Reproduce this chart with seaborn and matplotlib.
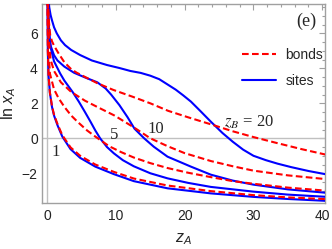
import numpy as np
import pandas as pd
import matplotlib
matplotlib.use("Agg")
import matplotlib.pyplot as plt
import seaborn as sns
from matplotlib.lines import Line2D
from matplotlib.ticker import MultipleLocator

# values (z_A, ln x_A) for z_B = 1, 5, 10, 20
z_sites_20 = [0.15, 0.3, 0.5, 0.7, 1.0, 1.4, 2.0, 2.6, 3.5, 4.8, 6.5, 8.7, 10.5, 12.1, 13.6, 15.0,
              16.3, 17.5, 18.7, 19.8, 20.9, 22.3, 23.8, 25.5, 27.0, 28.5, 30.0, 31.8, 33.5, 35.5, 38.0, 40.7]
lnx_sites_20 = [8.2, 7.5, 7.05, 6.75, 6.35, 6.0, 5.6, 5.33, 5.05, 4.76, 4.45, 4.19, 4.02, 3.85, 3.74, 3.58,
                3.38, 3.08, 2.78, 2.45, 2.1, 1.55, 0.95, 0.3, -0.2, -0.65, -1.0, -1.25, -1.45, -1.65, -1.87, -2.07]
z_bonds_20 = [0.1, 0.25, 0.44, 0.7, 1.0, 1.65, 2.5, 3.5, 4.3, 5.8, 7.3, 9.6, 12.4, 15.0, 17.6, 20.5,
              23.8, 27.0, 30.0, 33.4, 37.0, 40.7]
lnx_bonds_20 = [8.2, 6.7, 5.9, 5.55, 5.3, 4.86, 4.35, 3.95, 3.75, 3.45, 3.15, 2.77, 2.38, 2.0, 1.57, 1.2,
                0.8, 0.4, 0.07, -0.27, -0.62, -0.95]

z_sites_10 = [0.1, 0.2, 0.35, 0.54, 1.0, 1.5, 2.5, 3.9, 5.5, 7.3, 8.5, 9.3, 10.5, 11.7, 12.7, 14.1,
              15.5, 17.5, 20.9, 23.8, 27.0, 30.0, 35.0, 40.7]
lnx_sites_10 = [8.2, 6.8, 5.8, 5.25, 4.75, 4.45, 4.1, 3.75, 3.48, 3.2, 2.85, 2.5, 1.9, 1.2, 0.55, 0.0,
                -0.48, -1.05, -1.62, -2.08, -2.42, -2.65, -2.92, -3.12]
z_bonds_10 = [0.1, 0.25, 0.5, 1.0, 2.0, 3.5, 5.5, 7.5, 9.8, 12.7, 15.0, 17.5, 20.0, 23.8, 27.0, 30.0, 35.0, 40.7]
lnx_bonds_10 = [7.8, 5.6, 4.5, 3.85, 3.2, 2.65, 2.15, 1.75, 1.3, 0.6, 0.0, -0.45, -0.85, -1.3, -1.6, -1.85, -2.12, -2.34]

z_sites_5 = [0.1, 0.25, 0.44, 1.0, 1.9, 2.5, 3.7, 4.6, 5.5, 6.3, 7.0, 7.7, 8.7, 9.7, 11.0, 12.6,
             15.0, 17.5, 20.5, 23.8, 30.0, 35.0, 40.7]
lnx_sites_5 = [8.2, 6.2, 5.3, 4.4, 3.7, 3.3, 2.65, 2.1, 1.5, 0.95, 0.45, 0.0, -0.5, -0.86, -1.25, -1.6,
               -2.0, -2.29, -2.55, -2.78, -3.05, -3.22, -3.35]
z_bonds_5 = [0.08, 0.2, 0.4, 1.0, 1.65, 2.5, 3.5, 4.4, 5.8, 7.0, 7.8, 9.0, 10.7, 12.6, 15.0, 17.5,
             20.5, 23.8, 27.0, 30.0, 35.0, 40.7]
lnx_bonds_5 = [7.8, 5.0, 3.7, 2.8, 2.3, 1.8, 1.3, 0.95, 0.45, 0.1, -0.12, -0.45, -0.78, -1.1, -1.42, -1.7,
               -1.97, -2.22, -2.45, -2.6, -2.82, -3.0]

z_sites_1 = [0.02, 0.05, 0.1, 0.2, 0.4, 0.7, 1.0, 1.5, 2.2, 3.4, 4.8, 7.0, 9.7, 12.6, 17.5, 23.8, 30.0, 35.0, 40.7]
lnx_sites_1 = [8.5, 7.0, 5.0, 3.6, 2.6, 1.8, 1.3, 0.75, 0.1, -0.62, -1.12, -1.62, -2.05, -2.45, -2.86,
               -3.15, -3.35, -3.47, -3.58]
z_bonds_1 = z_sites_1
lnx_bonds_1 = [8.5, 7.0, 5.0, 3.6, 2.6, 1.85, 1.35, 0.82, 0.18, -0.52, -1.0, -1.5, -1.92, -2.3, -2.7,
               -3.02, -3.25, -3.38, -3.48]

curve_labels = ["1", "5", "10", "20"]

sns.set_theme(style="white")
plt.rcParams['font.family'] = ['Liberation Sans', 'DejaVu Sans']
plt.rcParams['mathtext.fontset'] = 'custom'
plt.rcParams['mathtext.rm'] = 'Liberation Sans'
plt.rcParams['mathtext.it'] = 'Liberation Sans:italic'

blue = '#0000ff'
red = '#ff0000'
gray = '#a0a0a0'
dash = (0, (3.2, 1.6))

fig = plt.figure(figsize=(3.32, 2.49), dpi=100)
ax = fig.add_axes([42 / 332, 1 - 203 / 249, (325 - 42) / 332, (203 - 4) / 249])

ax.axhline(0, color='#c0c0c0', lw=1.0, zorder=1)
ax.axvline(0, color='#c0c0c0', lw=1.0, zorder=1)

sites = [(z_sites_1, lnx_sites_1), (z_sites_5, lnx_sites_5), (z_sites_10, lnx_sites_10), (z_sites_20, lnx_sites_20)]
bonds = [(z_bonds_1, lnx_bonds_1), (z_bonds_5, lnx_bonds_5), (z_bonds_10, lnx_bonds_10), (z_bonds_20, lnx_bonds_20)]

for z, y in sites:
    sns.lineplot(x=z, y=y, ax=ax, color=blue, lw=1.5, sort=False, estimator=None, zorder=3)
for z, y in bonds:
    sns.lineplot(x=z, y=y, ax=ax, color=red, lw=1.5, sort=False, estimator=None, zorder=4,
                 linestyle=dash)

ax.set_xlim(-0.75, 40.4)
ax.set_ylim(-3.7, 7.68)

ax.xaxis.set_major_locator(MultipleLocator(10))
ax.xaxis.set_minor_locator(MultipleLocator(2))
ax.yaxis.set_major_locator(MultipleLocator(2))
ax.yaxis.set_minor_locator(MultipleLocator(0.5))
ax.tick_params(which='both', direction='in', top=True, right=True, color=gray, width=0.8,
               labelsize=10, labelcolor='#222222')
ax.tick_params(which='major', length=4.5)
ax.tick_params(which='minor', length=2.5)
ax.tick_params(axis='x', pad=4)
ax.tick_params(axis='y', pad=3)
for s in ax.spines.values():
    s.set_color(gray)
    s.set_linewidth(1.0)

ax.set_xlabel(r'$z_A$', fontsize=11.5, labelpad=6)
ax.set_ylabel(r'$\mathrm{ln}\ x_A$', fontsize=11.5, labelpad=3)

# curve labels
serif = ['Liberation Serif', 'DejaVu Serif']
ax.text(1.17, -0.78, curve_labels[0], family=serif, fontsize=12, ha='center', va='center')
ax.text(9.7, 0.17, curve_labels[1], family=serif, fontsize=12, ha='center', va='center')
ax.text(15.8, 0.52, curve_labels[2], family=serif, fontsize=12, ha='center', va='center')
ax.text(29.3, 0.92, r'$z_B$ = ' + curve_labels[3], family=serif, math_fontfamily='stix',
        fontsize=12, ha='center', va='center')
ax.text(0.933, 0.913, '(e)', transform=ax.transAxes, family=serif, fontsize=13, ha='center', va='center')

handles = [Line2D([], [], color=red, lw=1.5, linestyle=dash),
           Line2D([], [], color=blue, lw=1.5)]
ax.legend(handles, ['bonds', 'sites'], loc='upper right', bbox_to_anchor=(0.993, 0.78),
          frameon=False, fontsize=10, handlelength=2.5, labelspacing=0.85, handletextpad=0.65,
          borderaxespad=0, borderpad=0)

fig.savefig('out.png', dpi=100)
